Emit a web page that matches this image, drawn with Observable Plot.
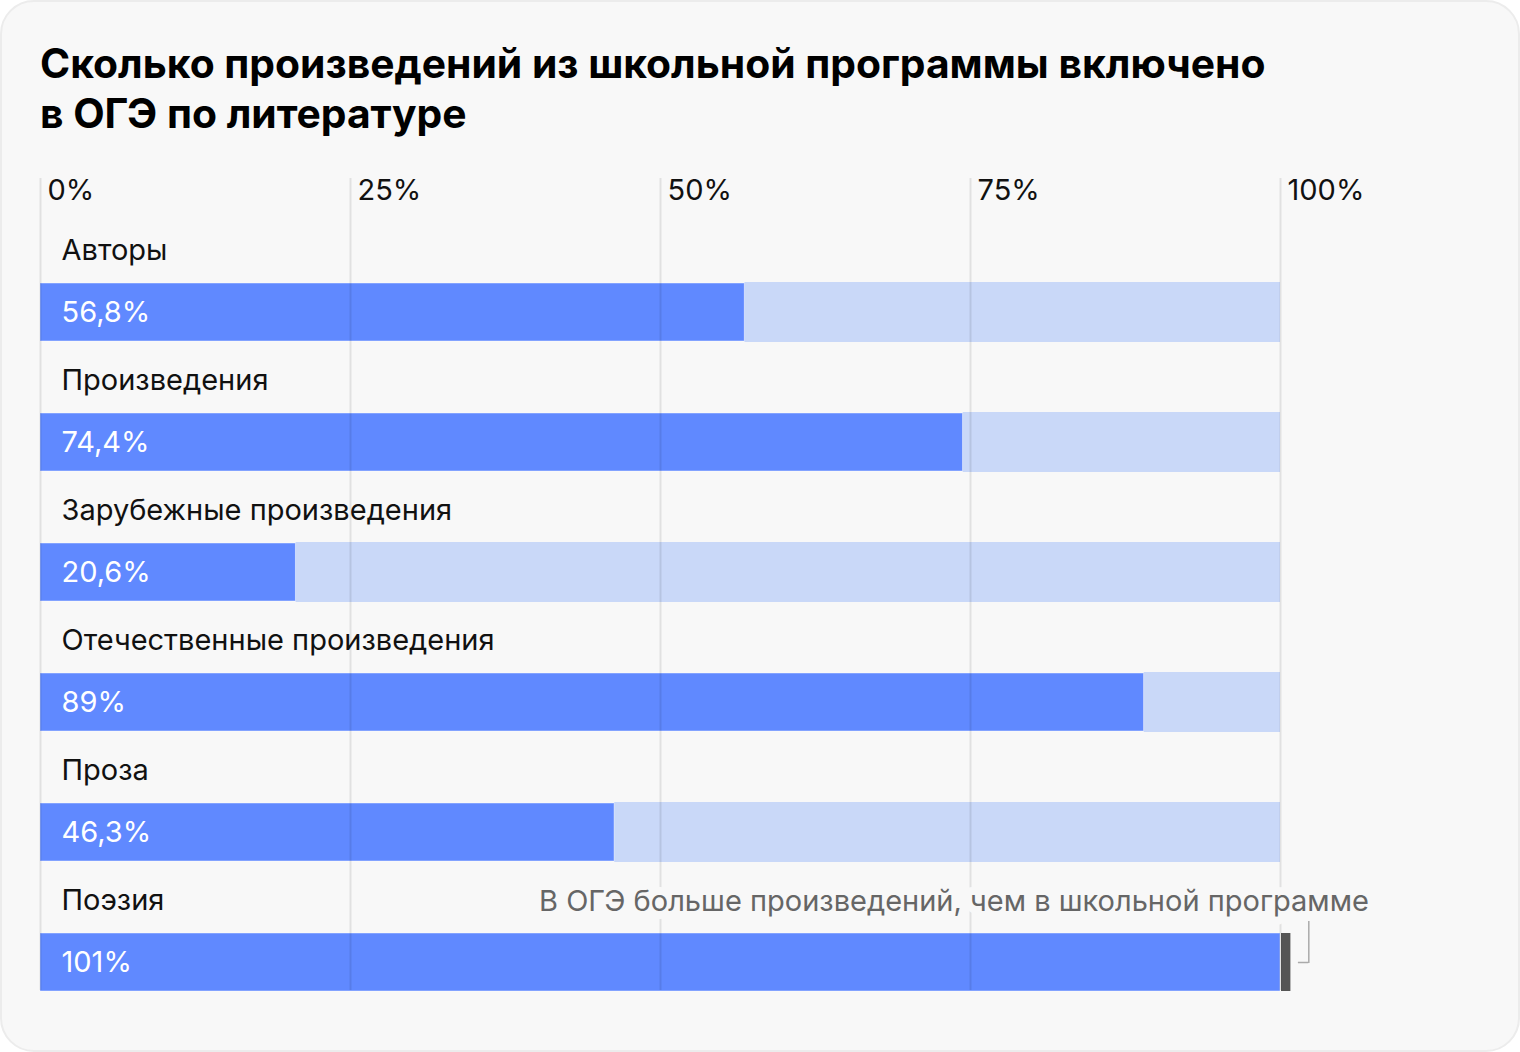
<!DOCTYPE html>
<html>
<head>
<meta charset="utf-8">
<script src="https://cdn.jsdelivr.net/npm/d3@7"></script>
<script src="https://cdn.jsdelivr.net/npm/@observablehq/plot@0.6"></script>
<style>
  html, body { margin: 0; padding: 0; background: #ffffff; }
  body { width: 1520px; height: 1052px; position: relative; overflow: hidden; font-family: Inter, "Noto Sans", sans-serif; }
  #card { position: absolute; left: 0; top: 0; width: 1520px; height: 1052px; box-sizing: border-box;
          border: 2px solid #ececec; border-radius: 34px; background: #f8f8f8; }
  #title { position: absolute; left: 40px; top: 38px; margin: 0; font-size: 40.8px; line-height: 50px;
           font-weight: 700; color: #000; letter-spacing: 0px; }
  #chart { position: absolute; left: 0; top: 160px; }
</style>
</head>
<body>
<div id="card"></div>
<h1 id="title">Сколько произведений из школьной программы включено<br>в ОГЭ по литературе</h1>
<div id="chart"></div>
<script>
const categories = ["Авторы", "Произведения", "Зарубежные произведения", "Отечественные произведения", "Проза", "Поэзия"];
const values = [56.8, 74.4, 20.6, 89, 46.3, 101];
const valueLabels = ["56,8%", "74,4%", "20,6%", "89%", "46,3%", "101%"];
const ticks = [0, 25, 50, 75, 100];
const tickLabels = ["0%", "25%", "50%", "75%", "100%"];
const annotation = "В ОГЭ больше произведений, чем в школьной программе";

const data = categories.map((c, i) => ({category: c, value: values[i], label: valueLabels[i]}));
const under = data.filter(d => d.value < 100);
const over = data.filter(d => d.value > 100);

const blue = "#6089ff";
const light = "#c9d8f8";
const bg = "#f8f8f8";
const font = "Inter, 'Noto Sans', sans-serif";
const fs = 29;

const chart = Plot.plot({
  width: 1520,
  height: 850,
  marginLeft: 40,
  marginRight: 240,
  marginTop: 18,
  marginBottom: 20,
  style: {background: "transparent", fontFamily: font, fontSize: fs + "px", overflow: "visible"},
  x: {domain: [0, 100], axis: null},
  y: {domain: categories, range: [122, 832], paddingInner: 1 - 60 / 130, paddingOuter: 0, axis: null},
  marks: [
    // remainder to 100%
    Plot.barX(under, {y: "category", x1: "value", x2: () => 100, fill: light}),
    // main bars
    Plot.barX(data, {y: "category", x1: () => 0, x2: d => Math.min(d.value, 100), fill: blue,
      insetTop: 1, insetBottom: 1, stroke: "#ffffff", strokeOpacity: 0.45, strokeWidth: 1}),
    // overflow beyond 100%
    Plot.barX(over, {y: "category", x1: () => 100, x2: "value", fill: "#555555", insetLeft: 1, insetRight: 2, insetTop: 1, insetBottom: 1}),
    // grid
    Plot.ruleX(ticks, {stroke: "#000", strokeOpacity: 0.09, strokeWidth: 2}),
    // tick labels
    Plot.text(ticks, {x: d => d, text: (d, i) => tickLabels[i], frameAnchor: "top", textAnchor: "start",
      lineAnchor: "middle", dx: 7, dy: 12, fill: "#111", fontSize: fs}),
    // category labels
    Plot.text(data, {y: "category", x: () => 0, text: "category", textAnchor: "start", dx: 21, dy: -62,
      fill: "#111", fontSize: fs}),
    // value labels
    Plot.text(data, {y: "category", x: () => 0, text: "label", textAnchor: "start", dx: 21,
      fill: "#ffffff", fontSize: fs}),
    // annotation
    Plot.text(over, {y: "category", x: "value", text: () => annotation, textAnchor: "end", dx: 76, dy: -61,
      fill: "#666666", stroke: bg, strokeWidth: 16, strokeLinejoin: "round", fontSize: fs}),
    Plot.tickX(over, {y: "category", x: () => 102, dx: 3.5, insetTop: -11, insetBottom: 29, stroke: "#aaaaaa", strokeWidth: 1.5}),
    Plot.ruleY(over, {y: "category", x1: () => 101, x2: () => 102, dx: 3.5, insetLeft: 2, stroke: "#aaaaaa", strokeWidth: 1.5})
  ]
});
document.getElementById("chart").appendChild(chart);
</script>
</body>
</html>
